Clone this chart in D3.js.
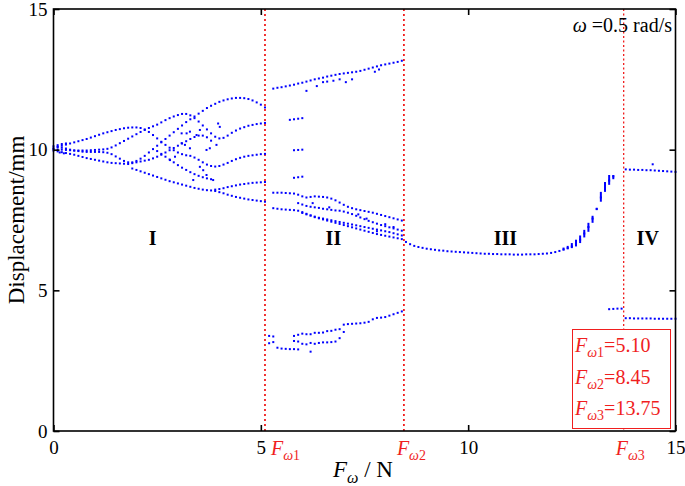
<!DOCTYPE html>
<html><head><meta charset="utf-8">
<script src="https://cdn.jsdelivr.net/npm/d3@7"></script>
<style>
body{margin:0;background:#fff}
svg{display:block}
text{font-family:"Liberation Serif","Times New Roman",serif}
</style>
</head><body>
<svg id="c" width="685" height="486"></svg>
<script>
// ---------------- DATA ----------------
const fStep = 0.1;
// Region I branches: [startF, values...]
const regionI_L1 = [0.0, [10.05,10.1,10.14,10.18,10.22,10.26,10.3,10.34,10.38,10.43,10.48,10.53,10.58,10.62,10.66,10.7,10.73,10.76,10.78,10.79,10.79,10.77,10.72,10.63,10.52,10.4,10.28,10.17,10.07,9.98,9.9,9.84,9.8,9.78,9.72,9.64,9.55,9.47,9.42,9.4,9.42,9.47,9.53,9.6,9.66,9.71,9.75,9.78,9.8,9.82,9.84,9.85]];
const regionI_L2 = [0.0, [10.02,10.01,10.0,9.99,9.98,9.97,9.97,9.97,9.97,9.98,9.99,10.0,10.01,10.03,10.08,10.15,10.23,10.31,10.39,10.47,10.55,10.63,10.7,10.77,10.83,10.89,10.97,11.05,11.12,11.18,11.23,11.27,11.27,11.22,11.12,11.0,10.86,10.72,10.58,10.46,10.4,10.42,10.5,10.6,10.68,10.75,10.8,10.85,10.88,10.91,10.93,10.95]];
const regionI_L3 = [0.0, [10.12,10.1,10.07,10.04,10.0,9.97,9.95,9.93,9.92,9.92,9.92,9.92,9.91,9.89,9.84,9.76,9.68,9.6,9.55,9.55,9.6,9.68,9.78,9.9,10.02,10.14,10.26,10.38,10.5,10.62,10.74,10.86,10.98,11.08,11.18,11.28,11.38,11.48,11.56,11.63,11.7,11.75,11.79,11.82,11.84,11.84,11.83,11.8,11.75,11.68,11.6,11.5]];
const regionI_L4 = [0.0, [9.97,9.94,9.91,9.88,9.85,9.82,9.78,9.74,9.7,9.67,9.64,9.61,9.58,9.55,9.53,9.52,9.51,9.5,9.49,9.52,9.55,9.58,9.61,9.64,9.69,9.75,9.82,9.9,9.98,10.06,10.14,10.22,10.3,10.38,10.45,10.5,10.5,10.44,10.32]];
const regionI_L5 = [1.9, [9.33,9.28,9.23,9.18,9.13,9.08,9.03,8.98,8.93,8.88,8.84,8.8,8.76,8.72,8.68,8.64,8.61,8.58,8.56,8.55,8.53,8.49,8.45,8.4,8.36,8.32,8.29,8.26,8.23,8.21,8.19,8.17,8.15]];
const regionI_L6 = [3.9, [8.58,8.6,8.63,8.67,8.7,8.73,8.76,8.78,8.8,8.82,8.83,8.84,8.85]];
const regionI_L7 = [2.5, [9.95,9.85,9.75,9.65,9.55,9.45,9.36,9.28,9.2,9.13,9.07,9.02,8.98,8.95]];
const regionI_scatterF = [3.09,3.21,3.29,3.45,3.53,3.09,3.17,3.29,3.69,3.77,3.97,4.01,3.93,2.93,2.81,3.53,3.61,3.69,3.37,3.85,0.1,0.2,0.3,0.15,0.25];
const regionI_scatterD = [10.58,10.58,10.64,10.52,10.7,10.23,10.17,10.05,9.99,10.05,10.93,10.81,10.17,9.75,9.63,9.39,9.27,9.1,8.92,8.92,10.16,10.2,10.22,9.9,9.87];

// Region II branches
const regionII_top = [5.3, [12.17,12.2,12.22,12.25,12.28,12.31,12.35,12.38,12.42,12.46,12.5,12.53,12.56,12.6,12.63,12.66,12.69,12.71,12.73,12.75,12.77,12.8,12.84,12.88,12.92,12.96,13.0,13.03,13.06,13.09,13.12,13.16]];
const regionII_s1 = [5.7, [11.06,11.08,11.1,11.12]];
const regionII_s2 = [5.8, [9.98,9.99,10.0]];
const regionII_s3 = [5.8, [9.0,9.02,9.04]];
const regionII_D1 = [5.3, [8.47,8.47,8.47,8.46,8.45,8.44,8.4,8.34,8.3,8.32,8.34,8.33,8.32,8.3,8.26,8.2,8.12,8.04,7.97,7.92,7.88,7.85,7.82,7.79,7.76,7.72,7.68,7.64,7.6,7.56,7.52,7.48]];
const regionII_D2 = [5.3, [7.92,7.9,7.88,7.87,7.86,7.85,7.83,7.78,7.72,7.66,7.6,7.56,7.52,7.48,7.44,7.4,7.36,7.32,7.28,7.24,7.2,7.16,7.12,7.08,7.04,7.0,6.97,6.94,6.91,6.88,6.85,6.82]];
const regionII_D3 = [5.9, [8.1,8.05,8.0,7.97,7.95,7.93,7.9,7.88,7.86,7.84,7.83,7.8,7.76,7.71,7.65,7.59,7.53,7.47,7.42,7.37,7.32,7.28,7.24,7.2,7.16,7.12]];
const regionII_D4 = [6.0, [7.75,7.7,7.66,7.62,7.58,7.55,7.52,7.49,7.46,7.43,7.4,7.37,7.34,7.31,7.28,7.25,7.22,7.19,7.16,7.13,7.1,7.07,7.03,6.99,6.95]];
const regionII_E1 = [5.2, [3.38,3.36]];
const regionII_E2 = [5.2, [3.12,3.16]];
const regionII_E3 = [5.4, [2.96,2.93,2.92,2.91,2.91,2.9]];
const regionII_E4 = [5.8, [3.38,3.42,3.46,3.44,3.44,3.49,3.49,3.5,3.55,3.56,3.6,3.62,3.78,3.8,3.81,3.82,3.83,3.85,3.88,3.97,4.02,4.03,4.05,4.1,4.15,4.2,4.25]];
const regionII_E5 = [5.8, [3.2,3.18,3.1,3.08,3.13,3.1,3.13,3.15,3.15,3.16,3.18]];
const regionII_scatterF = [6.1,6.35,6.5,6.6,6.75,6.9,7.05,7.2,7.75,7.85,6.2,6.9,7.0,6.25,6.65,7.35,7.55,7.8,8.0,8.2];
const regionII_scatterD = [12.09,12.26,12.4,12.42,12.45,12.5,12.4,12.5,12.77,12.85,2.82,3.3,3.52,8.1,7.95,7.7,7.55,7.1,7.35,7.25];

// Region III
const regionIII = [8.5, [6.72,6.64,6.58,6.54,6.51,6.48,6.46,6.44,6.42,6.41,6.39,6.38,6.37,6.36,6.35,6.34,6.33,6.32,6.31,6.3,6.3,6.29,6.29,6.28,6.28,6.28,6.27,6.27,6.27,6.28,6.28,6.28,6.29,6.3,6.31,6.33,6.36,6.4,6.45,6.5,6.56,6.64,6.8,7.02,7.25,7.55,7.9,8.3,8.65,8.9,9.05]];
const streakStart = 12.3;
const streakLow  = [6.42,6.46,6.5,6.56,6.68,6.88,7.08,7.4,7.85,8.15,8.5,8.75,8.95];
const streakHigh = [6.52,6.58,6.68,6.8,6.95,7.15,7.4,7.65,7.92,8.5,8.85,9.1,9.1];

// Region IV
const regionIV_top = [13.8, [9.3,9.29,9.29,9.28,9.28,9.27,9.27,9.26,9.25,9.24,9.23,9.22,9.21]];
const regionIV_bottom = [13.8, [4.01,4.01,4.0,4.0,4.0,4.0,4.0,3.99,3.99,3.99,3.99,3.99,3.99]];
const regionIV_pre = [13.4, [4.33,4.34,4.35,4.35]];
const regionIV_outlierF = [14.45];
const regionIV_outlierD = [9.48];

const criticalF = [5.10, 8.45, 13.75];
const criticalSub = ["1","2","3"];
const criticalText = ["5.10","8.45","13.75"];
const xTicks = [0,5,10,15];
const yTicks = [0,5,10,15];
const regionNames = ["I","II","III","IV"];
const regionCenters = [2.39, 6.75, 10.9, 14.33];
const regionLabelD = 6.6;

// ---------------- DRAW ----------------
const svg = d3.select("#c");
const x = d3.scaleLinear().domain([0,15]).range([53.5,675.5]);
const y = d3.scaleLinear().domain([0,15]).range([431,9]);
const BLUE = "#0000ff", RED = "#f01e1e";

const branches = [regionI_L1,regionI_L2,regionI_L3,regionI_L4,regionI_L5,regionI_L6,regionI_L7,
  regionII_top,regionII_s1,regionII_s2,regionII_s3,regionII_D1,regionII_D2,regionII_D3,regionII_D4,
  regionII_E1,regionII_E2,regionII_E3,regionII_E4,regionII_E5,
  regionIII,regionIV_top,regionIV_bottom,regionIV_pre];
const pts = [];
branches.forEach(([f0, vals]) => vals.forEach((d,i) => pts.push({f: f0 + i*fStep, d})));
regionI_scatterF.forEach((f,i) => pts.push({f, d: regionI_scatterD[i]}));
regionII_scatterF.forEach((f,i) => pts.push({f, d: regionII_scatterD[i]}));
regionIV_outlierF.forEach((f,i) => pts.push({f, d: regionIV_outlierD[i]}));

// red critical lines
svg.append("g").selectAll("line").data(criticalF).join("line")
  .attr("x1", d => x(d)).attr("x2", d => x(d))
  .attr("y1", y(15)).attr("y2", y(0))
  .attr("stroke", RED)
  .attr("stroke-width", (d,i) => i < 2 ? 1.8 : 1.3)
  .attr("stroke-dasharray", (d,i) => i < 2 ? "2,3" : "2,2.5");

// streaks
svg.append("g").selectAll("line").data(streakLow).join("line")
  .attr("x1", (d,i) => x(streakStart + i*fStep)).attr("x2", (d,i) => x(streakStart + i*fStep))
  .attr("y1", d => y(d)).attr("y2", (d,i) => y(streakHigh[i]))
  .attr("stroke", BLUE).attr("stroke-width", 2);

// dots
svg.append("g").selectAll("rect").data(pts).join("rect")
  .attr("x", p => x(p.f) - 1).attr("y", p => y(p.d) - 1)
  .attr("width", 2).attr("height", 2).attr("fill", BLUE);

// frame
svg.append("rect").attr("x", x(0)).attr("y", y(15))
  .attr("width", x(15)-x(0)).attr("height", y(0)-y(15))
  .attr("fill","none").attr("stroke","#000").attr("stroke-width",1.6);

function styleAxis(g){
  g.select(".domain").remove();
  g.selectAll(".tick line").attr("stroke","#000").attr("stroke-width",1.6);
  g.selectAll(".tick text").attr("font-family",'"Liberation Serif","Times New Roman",serif')
    .attr("font-size",19).attr("fill","#000");
}
svg.append("g").attr("transform",`translate(0,${y(0)})`)
  .call(d3.axisBottom(x).tickValues(xTicks).tickSize(-6).tickPadding(10).tickFormat(d3.format("d")))
  .call(styleAxis);
svg.append("g").attr("transform",`translate(0,${y(15)})`)
  .call(d3.axisTop(x).tickValues(xTicks).tickSize(-6).tickFormat(""))
  .call(styleAxis);
svg.append("g").attr("transform",`translate(${x(0)},0)`)
  .call(d3.axisLeft(y).tickValues(yTicks).tickSize(-6).tickPadding(6).tickFormat(d3.format("d")))
  .call(styleAxis);
svg.append("g").attr("transform",`translate(${x(15)},0)`)
  .call(d3.axisRight(y).tickValues(yTicks).tickSize(-6).tickFormat(""))
  .call(styleAxis);

// F_omega text helper
function fw(sel, sub, size, rest){
  sel.append("tspan").attr("font-style","italic").text("F");
  sel.append("tspan").attr("font-style","italic").attr("font-size",size*0.7).attr("dy",size*0.25).text("ω");
  sel.append("tspan").attr("font-size",size*0.7).text(sub);
  if (rest) sel.append("tspan").attr("dy",-size*0.25).text(rest);
}

// critical labels under axis
const offs = [6, -7, -8];
criticalF.forEach((f,i) => {
  const t = svg.append("text").attr("x", x(f) + offs[i]).attr("y", 455)
    .attr("font-size",20).attr("fill",RED);
  fw(t, criticalSub[i], 20);
});

// x title
{
  const t = svg.append("text").attr("x", 333).attr("y", 477).attr("font-size",23).attr("fill","#000");
  fw(t, "", 23, " / N");
}
// y title
svg.append("text").attr("transform","translate(24,220) rotate(-90)")
  .attr("text-anchor","middle").attr("font-size",23).attr("fill","#000").text("Displacement/mm");

// omega annotation
{
  const t = svg.append("text").attr("x", 672).attr("y", 32).attr("text-anchor","end")
    .attr("font-size",20).attr("fill","#000");
  t.append("tspan").attr("font-style","italic").text("ω");
  t.append("tspan").text(" =0.5 rad/s");
}

// region labels
svg.append("g").selectAll("text").data(regionNames).join("text")
  .attr("x", (d,i) => x(regionCenters[i])).attr("y", y(regionLabelD))
  .attr("text-anchor","middle").attr("font-weight","bold").attr("font-size",20)
  .attr("fill","#000").text(d => d);

// red box
svg.append("rect").attr("x",572.5).attr("y",329.5).attr("width",98).attr("height",99)
  .attr("fill","#fff").attr("stroke",RED).attr("stroke-width",1);
criticalText.forEach((v,i) => {
  const t = svg.append("text").attr("x",575).attr("y",352 + i*31.5)
    .attr("font-size",20).attr("fill",RED);
  fw(t, criticalSub[i], 20, "=" + v);
});
</script>
</body></html>
